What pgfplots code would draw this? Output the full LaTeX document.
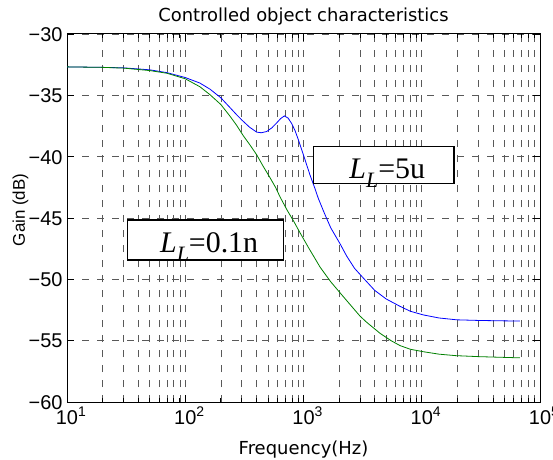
\documentclass[border=0pt]{standalone}
\usepackage{fontspec}
\setmainfont{Liberation Sans}
\newfontfamily\dejavu{DejaVu Sans}
\newfontfamily\serifL{Liberation Serif}
\usepackage{pgfplots}
\pgfplotsset{compat=1.18}
\pgfplotsset{every axis title shift=0pt}
\definecolor{mgreen}{RGB}{0,128,0}
\begin{document}
\begin{tikzpicture}
\begin{semilogxaxis}[
  scale only axis, width=473bp, height=368bp,
  xmin=10, xmax=100000, ymin=-60, ymax=-30,
  xtick={10,100,1000,10000,100000},
  xticklabels={10\rlap{\textsuperscript{1}},10\rlap{\textsuperscript{2}},10\rlap{\textsuperscript{3}},10\rlap{\textsuperscript{4}},10\rlap{\textsuperscript{5}}},
  ytick={-60,-55,-50,-45,-40,-35,-30},
  yticklabels={−60,−55,−50,−45,−40,−35,−30},
  xticklabel style={font=\fontsize{20}{20}\selectfont, anchor=base, yshift=-22bp},
  yticklabel style={font=\fontsize{20}{20}\selectfont, anchor=east, xshift=-1bp, yshift=-0.5bp},
  grid=both,
  major grid style={black!65, line width=0.6bp, dash pattern=on 7bp off 8bp},
  minor grid style={black!65, line width=0.6bp, dash pattern=on 7bp off 8bp},
  axis line style={black, line width=1bp},
  major tick length=7bp, minor tick length=4bp,
  tick style={black, line width=0.8bp},
  title={Controlled object characteristics},
  title style={font=\dejavu\fontsize{18}{18}\selectfont, at={(axis description cs:0.5,1.0353)}, anchor=base},
  xlabel={Frequency(Hz)},
  xlabel style={font=\dejavu\fontsize{18}{18}\selectfont, at={(axis description cs:0.5,-0.1413)}, anchor=base},
  ylabel={Gain (dB)},
  ylabel style={font=\fontsize{17}{17}\selectfont, at={(axis description cs:-0.0888,0.522)}, anchor=base, rotate=0},
]
\addplot[blue, line width=0.8bp] coordinates {
(10,-32.68) (20,-32.72) (30,-32.76) (50,-32.92) (70,-33.15) (100,-33.55)
(133,-34.0) (162,-34.5) (200,-35.2) (239,-36.0) (270,-36.55) (300,-37.0)
(350,-37.6) (402,-38.0) (440,-38.05) (488,-37.95) (540,-37.65) (593,-37.25)
(640,-36.9) (688,-36.68) (740,-36.85) (795,-37.3) (850,-37.9) (903,-38.6)
(1010,-40.0) (1135,-41.5) (1250,-42.6) (1334,-43.4) (1500,-44.6) (1700,-45.8)
(2037,-47.1) (2317,-48.1) (2700,-49.1) (3209,-49.9) (4000,-50.9) (5000,-51.6)
(6546,-52.2) (8000,-52.6) (10300,-52.9) (14000,-53.15) (19760,-53.3)
(30000,-53.35) (45000,-53.38) (67700,-53.4)
};
\addplot[mgreen, line width=0.8bp] coordinates {
(10,-32.68) (20,-32.72) (30,-32.78) (50,-32.98) (70,-33.2) (100,-33.65)
(133,-34.3) (162,-34.95) (200,-35.75) (239,-36.7) (270,-37.4) (310,-38.3)
(350,-39.0) (402,-39.85) (457,-40.8) (520,-41.7) (580,-42.5) (635,-43.3)
(721,-44.3) (830,-45.3) (934,-46.2) (1100,-47.4) (1250,-48.3) (1380,-49.0)
(1700,-50.2) (2037,-51.1) (2500,-52.1) (3007,-53.0) (3420,-53.5) (4440,-54.4)
(5500,-55.0) (6546,-55.4) (8000,-55.7) (10300,-55.9) (14000,-56.1)
(19320,-56.22) (30000,-56.3) (45000,-56.35) (67700,-56.4)
};
\draw[black, line width=1.3bp, fill=white] (axis cs:1211,-39.18) rectangle (axis cs:18750,-42.17);
\draw[black, line width=1.3bp, fill=white] (axis cs:32.4,-45.16) rectangle (axis cs:675,-48.42);
\node[anchor=base west, inner sep=0pt, font=\serifL\fontsize{30}{30}\selectfont] at (axis cs:2438,-41.76)
  {\itshape L\raisebox{-0.3em}{\fontsize{22}{22}\selectfont L}\upshape=5u};
\node[anchor=base west, inner sep=0pt, font=\serifL\fontsize{30}{30}\selectfont] at (axis cs:61.1,-47.79)
  {\itshape L\raisebox{-0.3em}{\fontsize{22}{22}\selectfont L}\upshape=0.1n};
\coordinate (ll) at (rel axis cs:0,0);
\coordinate (ur) at (rel axis cs:1,1);
\end{semilogxaxis}
\pgfresetboundingbox
\path ([shift={(-67bp,-57bp)}]ll) rectangle ([shift={(13bp,34bp)}]ur);
\end{tikzpicture}
\end{document}
